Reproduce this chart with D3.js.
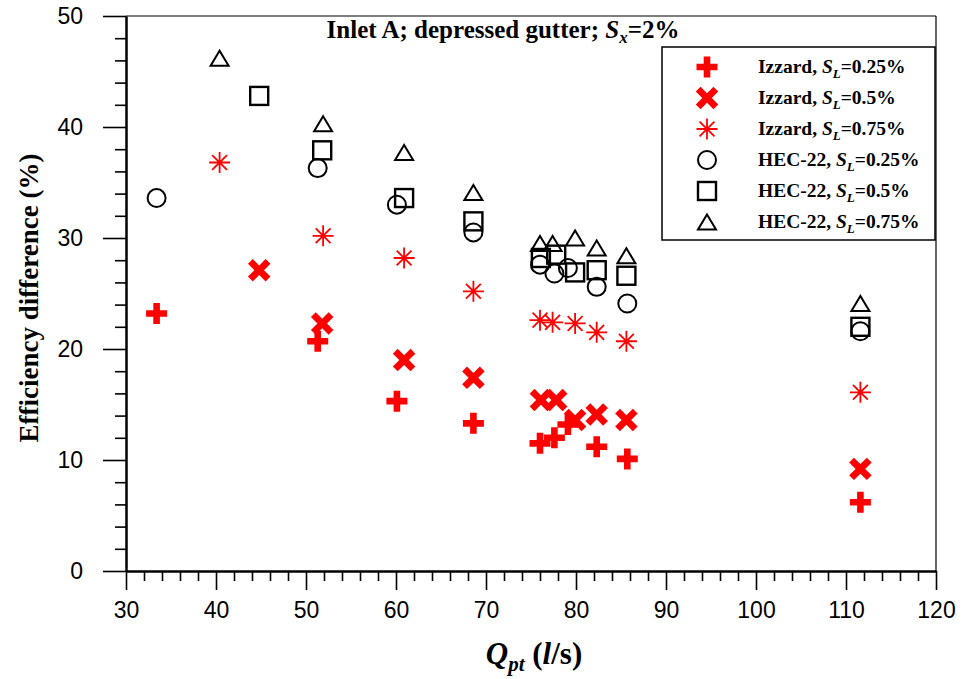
<!DOCTYPE html>
<html>
<head>
<meta charset="utf-8">
<script src="https://cdn.jsdelivr.net/npm/d3@7"></script>
<style>
  body { margin: 0; background: #fff; }
  svg { display: block; }
</style>
</head>
<body>
<svg id="chart" width="962" height="679"></svg>
<script>
// ---------- data ----------
const qSL025 = [33.4, 51.3, 60.1, 68.6, 76.0, 77.6, 79.1, 82.3, 85.7, 111.6];
const qSL05  = [44.8, 51.8, 60.9, 68.6, 76.1, 77.8, 79.9, 82.3, 85.6, 111.6];
const qSL075 = [40.4, 51.9, 60.9, 68.6, 76.0, 77.4, 79.9, 82.3, 85.6, 111.6];

const izzard025 = [23.2, 20.7, 15.3, 13.3, 11.5, 12.0, 13.2, 11.2, 10.1, 6.2];
const izzard05  = [27.1, 22.3, 19.0, 17.4, 15.4, 15.4, 13.6, 14.1, 13.6, 9.2];
const izzard075 = [36.8, 30.2, 28.2, 25.2, 22.6, 22.4, 22.3, 21.5, 20.7, 16.1];
const hec025    = [33.6, 36.3, 33.0, 30.5, 27.6, 26.8, 27.3, 25.6, 24.1, 21.6];
const hec05     = [42.8, 37.9, 33.6, 31.5, 28.2, 28.5, 26.9, 27.1, 26.6, 22.0];
const hec075    = [46.2, 40.3, 37.7, 34.1, 29.5, 29.5, 30.0, 29.1, 28.4, 24.1];

const seriesMethods = ["Izzard", "Izzard", "Izzard", "HEC-22", "HEC-22", "HEC-22"];
const seriesSlopes  = ["0.25%", "0.5%", "0.75%", "0.25%", "0.5%", "0.75%"];
const xTickValues = [30, 40, 50, 60, 70, 80, 90, 100, 110, 120];
const yTickValues = [0, 10, 20, 30, 40, 50];

// ---------- layout ----------
const svg = d3.select("#chart");
const mLeft = 126, mRight = 936, mTop = 16, mBottom = 571;
const x = d3.scaleLinear().domain([30, 120]).range([mLeft, mRight]);
const y = d3.scaleLinear().domain([0, 50]).range([mBottom, mTop]);

// ---------- marker shapes ----------
function plusPath(s, t) { // s half-size, t half-thickness
  return `M${-t},${-s}H${t}V${-t}H${s}V${t}H${t}V${s}H${-t}V${t}H${-s}V${-t}H${-t}Z`;
}
function asteriskPath(r) {
  let p = "";
  for (let k = 0; k < 4; k++) {
    const a = k * Math.PI / 4;
    const dx = r * Math.cos(a), dy = r * Math.sin(a);
    p += `M${-dx},${-dy}L${dx},${dy}`;
  }
  return p;
}
function trianglePath(w, h) {
  return `M0,${-h/2}L${w/2},${h/2}L${-w/2},${h/2}Z`;
}
const markers = [
  g => g.append("path").attr("d", plusPath(10.5, 3.3)).attr("fill", "#ff0000"),
  g => g.append("path").attr("d", plusPath(12.5, 3.4)).attr("transform", "rotate(45)").attr("fill", "#ff0000"),
  g => g.append("path").attr("d", asteriskPath(10.5)).attr("stroke", "#ff0000").attr("stroke-width", 1.8).attr("fill", "none"),
  g => g.append("circle").attr("r", 9).attr("fill", "none").attr("stroke", "#000").attr("stroke-width", 2),
  g => g.append("rect").attr("x", -9).attr("y", -9).attr("width", 18).attr("height", 18).attr("fill", "none").attr("stroke", "#000").attr("stroke-width", 2.4),
  g => g.append("path").attr("d", trianglePath(18, 15)).attr("fill", "none").attr("stroke", "#000").attr("stroke-width", 2).attr("stroke-linejoin", "miter")
];

const seriesX = [qSL025, qSL05, qSL075, qSL025, qSL05, qSL075];
const seriesY = [izzard025, izzard05, izzard075, hec025, hec05, hec075];

// ---------- frame (top & right) ----------
svg.append("line").attr("x1", mLeft).attr("x2", mRight).attr("y1", mTop).attr("y2", mTop)
  .attr("stroke", "#000").attr("stroke-width", 1.2);
svg.append("line").attr("x1", mRight).attr("x2", mRight).attr("y1", mTop).attr("y2", mBottom)
  .attr("stroke", "#000").attr("stroke-width", 1.2);

// ---------- axes ----------
const minorX = d3.range(30, 121, 2).filter(v => v % 10 !== 0);
const minorY = d3.range(0, 51, 2).filter(v => v % 10 !== 0);

const gxMinor = svg.append("g").attr("transform", `translate(0,${mBottom})`)
  .call(d3.axisBottom(x).tickValues(minorX).tickSize(10).tickSizeOuter(0).tickFormat(""));
const gx = svg.append("g").attr("transform", `translate(0,${mBottom})`)
  .call(d3.axisBottom(x).tickValues(xTickValues).tickSize(19).tickSizeOuter(0).tickPadding(12));
const gyMinor = svg.append("g").attr("transform", `translate(${mLeft},0)`)
  .call(d3.axisLeft(y).tickValues(minorY).tickSize(11).tickSizeOuter(0).tickFormat(""));
const gy = svg.append("g").attr("transform", `translate(${mLeft},0)`)
  .call(d3.axisLeft(y).tickValues(yTickValues).tickSize(23).tickSizeOuter(0).tickPadding(20));

[gxMinor, gx, gyMinor, gy].forEach(g => {
  g.selectAll("path.domain").attr("stroke", "#000").attr("stroke-width", 2);
  g.selectAll(".tick line").attr("stroke", "#000").attr("stroke-width", 1.6);
});
gx.selectAll(".tick text").attr("font-family", "'Liberation Sans', Arial, sans-serif")
  .attr("font-size", 23).attr("fill", "#000");
gy.selectAll(".tick text").attr("font-family", "'Liberation Sans', Arial, sans-serif")
  .attr("font-size", 23).attr("fill", "#000");

// ---------- data points ----------
seriesX.forEach((xs, si) => {
  const g = svg.append("g");
  xs.forEach((xv, i) => {
    const pt = g.append("g").attr("transform", `translate(${x(xv)},${y(seriesY[si][i])})`);
    markers[si](pt);
  });
});

// ---------- title ----------
const serif = "'Liberation Serif', 'Times New Roman', serif";
const title = svg.append("text").attr("x", 503).attr("y", 38).attr("text-anchor", "middle")
  .attr("font-family", serif).attr("font-weight", "bold").attr("font-size", 25).attr("fill", "#000");
title.append("tspan").text("Inlet A; depressed gutter; ");
title.append("tspan").attr("font-style", "italic").text("S");
title.append("tspan").attr("font-style", "italic").attr("font-size", 17).attr("dy", 5).text("x");
title.append("tspan").attr("dy", -5).text("=2%");

// ---------- axis titles ----------
const xt = svg.append("text").attr("x", 534).attr("y", 664).attr("text-anchor", "middle")
  .attr("font-family", serif).attr("font-weight", "bold").attr("font-size", 31).attr("fill", "#000");
xt.append("tspan").attr("font-style", "italic").text("Q");
xt.append("tspan").attr("font-style", "italic").attr("font-size", 21).attr("dy", 7).text("pt");
xt.append("tspan").attr("dy", -7).text(" (");
xt.append("tspan").attr("font-style", "italic").text("l");
xt.append("tspan").text("/s)");

svg.append("text").attr("transform", "translate(38,298) rotate(-90)").attr("text-anchor", "middle")
  .attr("font-family", serif).attr("font-weight", "bold").attr("font-size", 27).attr("fill", "#000")
  .text("Efficiency difference (%)");

// ---------- legend ----------
const lg = svg.append("g");
lg.append("rect").attr("x", 662).attr("y", 47).attr("width", 273).attr("height", 193)
  .attr("fill", "#fff").attr("stroke", "#000").attr("stroke-width", 1.5);
seriesMethods.forEach((m, i) => {
  const cy = 67 + i * 31;
  const pt = lg.append("g").attr("transform", `translate(707,${cy})`);
  markers[i](pt);
  const t = lg.append("text").attr("x", 758).attr("y", cy + 6)
    .attr("font-family", serif).attr("font-weight", "bold").attr("font-size", 19.5).attr("fill", "#000");
  t.append("tspan").text(m + ", ");
  t.append("tspan").attr("font-style", "italic").text("S");
  t.append("tspan").attr("font-style", "italic").attr("font-size", 13).attr("dy", 5).text("L");
  t.append("tspan").attr("dy", -5).text("=" + seriesSlopes[i]);
});
</script>
</body>
</html>
